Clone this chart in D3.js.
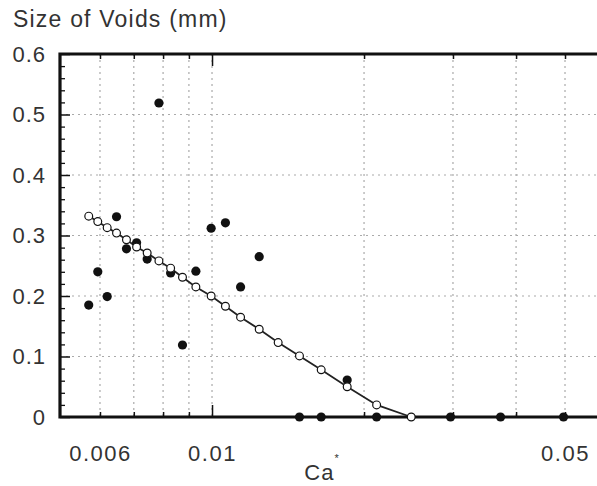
<!DOCTYPE html>
<html>
<head>
<meta charset="utf-8">
<script src="https://cdn.jsdelivr.net/npm/d3@7"></script>
<style>
  body { margin: 0; background: #fff; }
  text { font-family: "Liberation Sans", Arial, Helvetica, sans-serif; fill: #333; }
</style>
</head>
<body>
<svg id="chart" width="597" height="486"></svg>
<script>
// model curve (open circles joined by a line)
const caModel = [0.00570, 0.00594, 0.00620, 0.00647, 0.00677, 0.00709, 0.00744, 0.00785,
    0.00828, 0.00874, 0.00929, 0.00996, 0.01063, 0.01139, 0.01240, 0.01352, 0.01490,
    0.01645, 0.01852, 0.02118, 0.02480];
const voidModel = [0.332, 0.323, 0.313, 0.304, 0.293, 0.281, 0.271, 0.258,
    0.246, 0.231, 0.215, 0.200, 0.183, 0.165, 0.145, 0.123, 0.101,
    0.078, 0.050, 0.020, 0.0];

// measured points (filled circles)
const caExp = [0.00570, 0.00594, 0.00620, 0.00647, 0.00677, 0.00709, 0.00744, 0.00785,
    0.00828, 0.00874, 0.00929, 0.00996, 0.01063, 0.01139, 0.01240, 0.01490, 0.01645,
    0.01852, 0.02118, 0.02967, 0.03727, 0.04966];
const voidExp = [0.185, 0.240, 0.199, 0.331, 0.278, 0.288, 0.261, 0.519,
    0.238, 0.119, 0.241, 0.312, 0.321, 0.215, 0.265, 0, 0,
    0.061, 0, 0, 0, 0];

const xLabels = [0.006, 0.01, 0.05];
const xGrid = [0.006, 0.007, 0.008, 0.009, 0.01, 0.02, 0.03, 0.04, 0.05];
const yLabels = [0, 0.1, 0.2, 0.3, 0.4, 0.5, 0.6];
const yGrid = [0.1, 0.2, 0.3, 0.4, 0.5];
const yMinor = [0.02, 0.04, 0.06, 0.08, 0.12, 0.14, 0.16, 0.18, 0.22, 0.24, 0.26, 0.28,
    0.32, 0.34, 0.36, 0.38, 0.42, 0.44, 0.46, 0.48, 0.52, 0.54, 0.56, 0.58];

const L = 60, T = 54, B = 417, R = 605;
const svg = d3.select("#chart");

const x = d3.scaleLog().domain([0.005, 0.06]).range([L, R]);
const y = d3.scaleLinear().domain([0, 0.6]).range([B, T]);

// title
svg.append("text")
    .attr("x", 13).attr("y", 27)
    .style("font-size", "23px").style("letter-spacing", "1.2px")
    .text("Size of Voids (mm)");

// grid
svg.append("g").selectAll("line")
    .data(yGrid).enter().append("line")
    .attr("x1", L).attr("x2", R)
    .attr("y1", d => y(d)).attr("y2", d => y(d))
    .attr("stroke", "#aaa").attr("stroke-width", 1.2)
    .attr("stroke-dasharray", "2,4");

svg.append("g").selectAll("line")
    .data(xGrid).enter().append("line")
    .attr("x1", d => x(d)).attr("x2", d => x(d))
    .attr("y1", T).attr("y2", B)
    .attr("stroke", "#aaa").attr("stroke-width", 1.2)
    .attr("stroke-dasharray", "2,4");

// y axis
const yAx = svg.append("g").attr("transform", `translate(${L},0)`)
    .call(d3.axisLeft(y).tickValues(yLabels).tickSize(-10).tickPadding(14)
        .tickFormat(d => d === 0 ? "0" : d3.format(".1f")(d)));
yAx.select(".domain").remove();
yAx.selectAll("line").attr("stroke", "#111").attr("stroke-width", 1.5);
yAx.selectAll("text").style("font-size", "22px").style("letter-spacing", "1px").attr("fill", "#333");

const yMin = svg.append("g").attr("transform", `translate(${L},0)`)
    .call(d3.axisLeft(y).tickValues(yMinor).tickSize(-5).tickFormat(""));
yMin.select(".domain").remove();
yMin.selectAll("line").attr("stroke", "#111").attr("stroke-width", 1.3);

// x axis bottom
const xAx = svg.append("g").attr("transform", `translate(0,${B})`)
    .call(d3.axisBottom(x).tickValues(xLabels).tickSize(0).tickPadding(28)
        .tickFormat(d3.format("")));
xAx.select(".domain").remove();
xAx.selectAll("text").style("font-size", "22px").style("letter-spacing", "1.5px").attr("fill", "#333");

[B, T].forEach(yy => {
    const up = yy === B;
    const g = svg.append("g").attr("transform", `translate(0,${yy})`)
        .call((up ? d3.axisBottom(x) : d3.axisTop(x)).tickValues(xGrid)
            .tickSize(-5).tickFormat(""));
    g.select(".domain").remove();
    g.selectAll("line")
        .attr("y2", d => (d === 0.01 ? 12 : 5) * (up ? -1 : 1))
        .attr("stroke", "#111").attr("stroke-width", 1.5);
});

// frame
svg.append("path")
    .attr("d", `M${R},${T}H${L}V${B}H${R}`)
    .attr("fill", "none").attr("stroke", "#111").attr("stroke-width", 3.2);

// x axis title
const cat = svg.append("text")
    .attr("x", 322).attr("y", 480)
    .attr("text-anchor", "middle")
    .style("font-size", "22px").style("letter-spacing", "1px");
cat.append("tspan").text("Ca");
cat.append("tspan").attr("dy", -18).style("font-size", "11px").text("*");

// model line
const model = caModel.map((c, i) => ({ c, v: voidModel[i] }));
svg.append("path")
    .datum(model)
    .attr("fill", "none").attr("stroke", "#222").attr("stroke-width", 1.8)
    .attr("d", d3.line().x(d => x(d.c)).y(d => y(d.v)));

// measured
const exp = caExp.map((c, i) => ({ c, v: voidExp[i] }));
svg.append("g").selectAll("circle")
    .data(exp).enter().append("circle")
    .attr("cx", d => x(d.c)).attr("cy", d => y(d.v))
    .attr("r", 4.6).attr("fill", "#111");

svg.append("g").selectAll("circle")
    .data(model).enter().append("circle")
    .attr("cx", d => x(d.c)).attr("cy", d => y(d.v))
    .attr("r", 3.9).attr("fill", "#fff")
    .attr("stroke", "#111").attr("stroke-width", 1.2);
</script>
</body>
</html>
